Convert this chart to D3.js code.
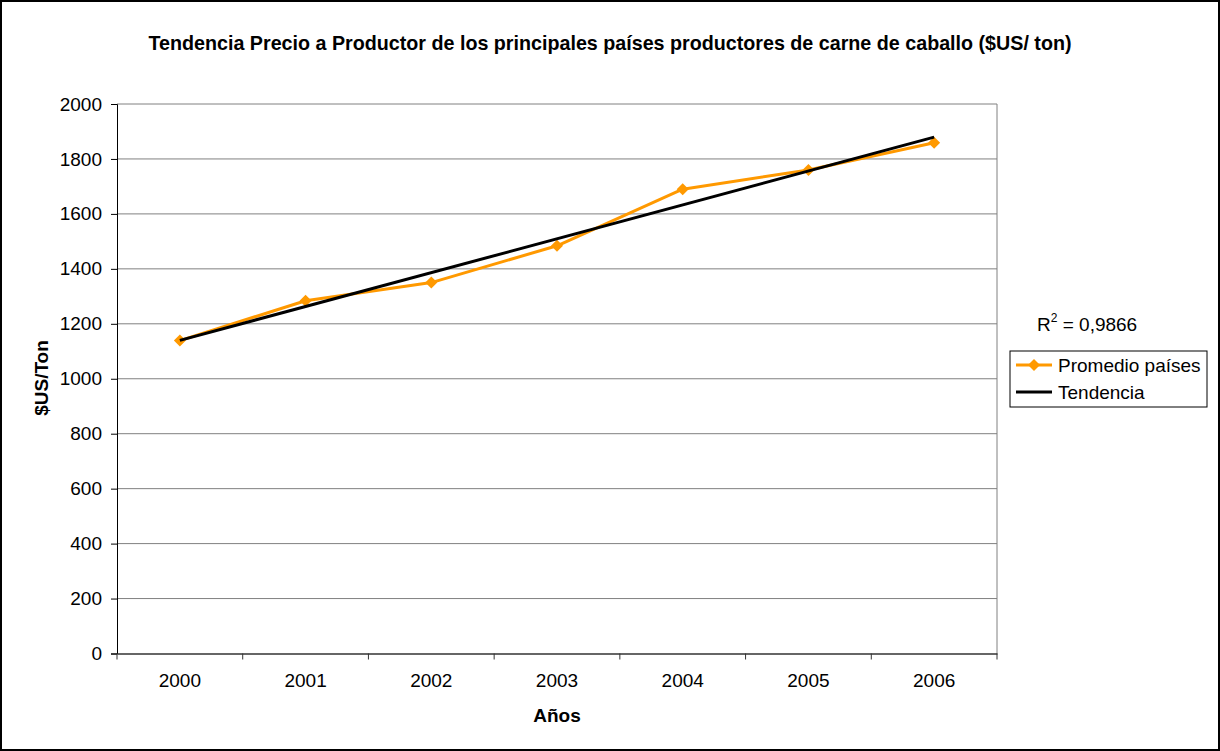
<!DOCTYPE html>
<html><head><meta charset="utf-8">
<script src="https://cdn.jsdelivr.net/npm/d3@7"></script>
<style>body{margin:0;background:#fff}svg{display:block;font-family:"Liberation Sans",Arial,sans-serif}</style>
</head><body>
<svg id="chart" width="1220" height="751"></svg>
<script>
const years = ["2000","2001","2002","2003","2004","2005","2006"];
const promedio = [1139, 1284, 1350, 1484, 1690, 1760, 1859];
const yTicks = [0,200,400,600,800,1000,1200,1400,1600,1800,2000];
const r2Label = "0,9866";
const titleText = "Tendencia Precio a Productor de los principales países productores de carne de caballo ($US/ ton)";

const FS = 19;
const svg = d3.select("#chart");
svg.append("rect").attr("x",1).attr("y",1).attr("width",1218).attr("height",749)
  .attr("fill","#fff").attr("stroke","#000").attr("stroke-width",2);

const m = {left:117, right:997, top:104, bottom:653.5};
const x = d3.scaleBand().domain(years).range([m.left, m.right]);
const y = d3.scaleLinear().domain([0,2000]).range([m.bottom, m.top]);

// gridlines
svg.append("g").selectAll("line").data(yTicks.filter(d=>d>0)).join("line")
  .attr("x1",m.left).attr("x2",m.right).attr("y1",d=>y(d)).attr("y2",d=>y(d))
  .attr("stroke","#808080").attr("stroke-width",1);
svg.append("line").attr("x1",m.right).attr("x2",m.right).attr("y1",m.top).attr("y2",m.bottom)
  .attr("stroke","#808080");

// y axis
const ya = svg.append("g").attr("transform",`translate(${m.left},0)`)
  .call(d3.axisLeft(y).tickValues(yTicks).tickSize(6).tickPadding(9).tickFormat(d3.format("d")));
ya.select(".domain").attr("stroke","#000");
ya.selectAll(".tick line").attr("stroke","#000");
ya.selectAll("text").attr("font-size",FS).attr("fill","#000").style("font-family","'Liberation Sans',Arial,sans-serif");

// x axis
const xa = svg.append("g").attr("transform",`translate(0,${m.bottom})`)
  .call(d3.axisBottom(x).tickSize(0).tickPadding(20));
xa.select(".domain").attr("stroke","#333").attr("stroke-width",1.5);
xa.selectAll("text").attr("font-size",FS).attr("fill","#000").style("font-family","'Liberation Sans',Arial,sans-serif");
const bounds = years.map(d=>x(d)).concat([m.right]);
svg.append("g").selectAll("line").data(bounds).join("line")
  .attr("x1",d=>d).attr("x2",d=>d).attr("y1",m.bottom).attr("y2",m.bottom+6)
  .attr("stroke","#333");

// trend (least squares)
const xs = years.map((d,i)=>i);
const mx = d3.mean(xs), my = d3.mean(promedio);
const slope = d3.sum(xs,(v,i)=>(v-mx)*(promedio[i]-my))/d3.sum(xs,v=>(v-mx)**2);
const icpt = my - slope*mx;
const cx = d => x(d)+x.bandwidth()/2;

const line = d3.line().x((d,i)=>cx(years[i])).y(d=>y(d));
svg.append("path").datum(promedio).attr("d",line)
  .attr("fill","none").attr("stroke","#FF9900").attr("stroke-width",3).attr("stroke-linejoin","round");
svg.append("g").selectAll("path").data(promedio).join("path")
  .attr("d",d3.symbol().type(d3.symbolSquare).size(72))
  .attr("transform",(d,i)=>`translate(${cx(years[i])},${y(d)}) rotate(45)`)
  .attr("fill","#FF9900");
const trendPts = [0, years.length-1].map(i=>[cx(years[i]), y(icpt+slope*i)]);
svg.append("path").attr("d",d3.line()(trendPts))
  .attr("stroke","#000").attr("stroke-width",3).attr("fill","none");

// title
svg.append("text").attr("x",610).attr("y",50).attr("text-anchor","middle")
  .attr("font-size",19.7).attr("font-weight","bold").text(titleText);
// axis titles
svg.append("text").attr("x",557).attr("y",722).attr("text-anchor","middle")
  .attr("font-size",FS).attr("font-weight","bold").text("Años");
svg.append("text").attr("transform","translate(48,378) rotate(-90)").attr("text-anchor","middle")
  .attr("font-size",FS).attr("font-weight","bold").text("$US/Ton");

// R2
const rt = svg.append("text").attr("x",1037).attr("y",331).attr("font-size",FS);
rt.append("tspan").text("R");
rt.append("tspan").attr("font-size",12).attr("dy",-9).text("2");
rt.append("tspan").attr("dy",9).text(" = " + r2Label);

// legend
const lg = svg.append("g");
lg.append("rect").attr("x",1010).attr("y",351).attr("width",197).attr("height",56)
  .attr("fill","#fff").attr("stroke","#000");
const items = [{name:"Promedio países", color:"#FF9900", marker:true},{name:"Tendencia", color:"#000", marker:false}];
items.forEach((it,i)=>{
  const yy = 365 + i*27;
  lg.append("line").attr("x1",1016).attr("x2",1052).attr("y1",yy).attr("y2",yy)
    .attr("stroke",it.color).attr("stroke-width",3);
  if(it.marker) lg.append("path").attr("d",d3.symbol().type(d3.symbolSquare).size(72)())
    .attr("transform",`translate(1034,${yy}) rotate(45)`).attr("fill",it.color);
  lg.append("text").attr("x",1058).attr("y",yy+7).attr("font-size",FS).text(it.name);
});
</script>
</body></html>
